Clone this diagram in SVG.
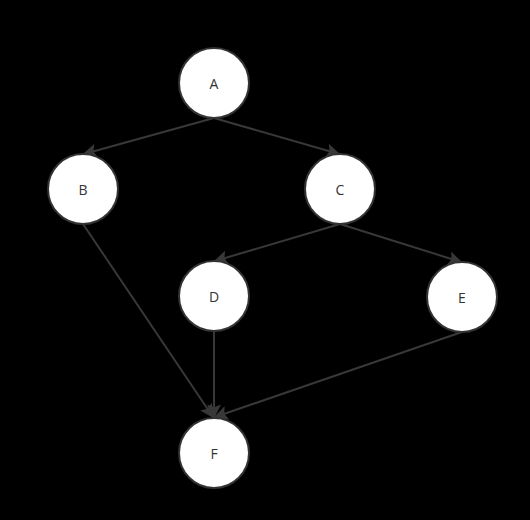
<svg xmlns="http://www.w3.org/2000/svg" width="530" height="520" viewBox="0 0 530 520">
<style>
.node circle{fill:#fff;stroke:#333;stroke-width:2}
.node text{font-family:"Open Sans","DejaVu Sans",sans-serif;font-size:14px;fill:#333;text-anchor:middle;dominant-baseline:central}
.edge{stroke:#383838;stroke-width:2;fill:none;marker-end:url(#arr)}
</style>
<defs>
<marker id="arr" viewBox="0 0 10 10" refX="9" refY="5" markerWidth="7.5" markerHeight="7" markerUnits="strokeWidth" orient="auto">
<path d="M0,0 L10,5 L0,10 L2,5 Z" fill="#383838"/>
</marker>
</defs>
<rect width="530" height="520" fill="#000"/>
<g id="edges">
<line class="edge" x1="214" y1="118" x2="84" y2="154"/>
<line class="edge" x1="214" y1="118" x2="339" y2="154"/>
<line class="edge" x1="340" y1="224" x2="215" y2="261"/>
<line class="edge" x1="340" y1="224" x2="461" y2="262"/>
<line class="edge" x1="83" y1="224" x2="213" y2="417"/>
<line class="edge" x1="214" y1="331" x2="214" y2="417"/>
<line class="edge" x1="462" y1="332" x2="215" y2="417"/>
</g>
<g id="A" class="node"><circle cx="214" cy="83" r="35"/><text x="214" y="83">A</text></g>
<g id="B" class="node"><circle cx="83" cy="189" r="35"/><text x="83" y="189">B</text></g>
<g id="C" class="node"><circle cx="340" cy="189" r="35"/><text x="340" y="189">C</text></g>
<g id="D" class="node"><circle cx="214" cy="296" r="35"/><text x="214" y="296">D</text></g>
<g id="E" class="node"><circle cx="462" cy="297" r="35"/><text x="462" y="297">E</text></g>
<g id="F" class="node"><circle cx="214" cy="453" r="35"/><text x="214" y="453">F</text></g>
</svg>
